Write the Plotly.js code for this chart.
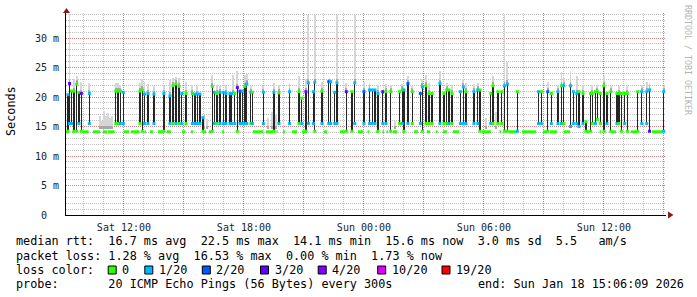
<!DOCTYPE html>
<html>
<head>
<meta charset="utf-8">
<script src="https://cdn.plot.ly/plotly-3.0.1.min.js"></script>
<style>
html,body{margin:0;padding:0;background:#fff;}
#chart{width:697px;height:297px;}
</style>
</head>
<body>
<div id="chart"></div>
<script>
// ---------- DATA (hours since Sat 2026-01-17 00:00, values in ms) ----------
const lossLabels = ['0','1/20','2/20','3/20','4/20','10/20','19/20'];
const lossColors = ['#26ff00','#00b8ff','#0059ff','#5e00ff','#7e00ff','#dd00ff','#ff0000'];

// dense ping spread (dark smoke) where the pings split between the two paths
const barHours = [9.20,9.28,9.38,9.50,9.64,9.75,9.87,10.27,
  11.59,11.70,11.82,11.97,
  12.80,12.92,13.03,13.20,13.50,14.00,
  14.30,14.45,14.60,14.75,14.89,15.10,15.42,15.55,15.67,15.80,15.95,
  16.42,16.52,16.65,16.80,16.97,17.10,17.30,17.39,17.54,17.67,17.80,17.92,18.05,18.14,18.34,18.42,18.97,
  19.50,19.75,20.28,20.75,20.89,21.10,21.22,21.47,21.54,21.90,22.24,22.34,22.54,22.65,23.12,23.40,23.54,
  24.00,24.28,24.42,24.55,24.70,24.94,25.10,25.34,25.78,25.92,26.00,26.20,26.42,26.82,26.92,27.10,27.25,27.40,27.80,28.00,28.14,28.25,28.40,28.82,28.97,29.10,
  29.50,29.69,29.80,30.34,30.45,30.70,30.89,31.03,31.17,31.67,32.73,32.87,33.19,33.37,33.70,33.88,33.99,
  34.33,34.47,34.64,34.75,34.95,35.10,35.33,35.42,35.57,35.67,35.82,36.00,36.15,36.34,36.65,36.75,36.87,37.04,37.17,37.69,37.89,38.14,38.28,38.99];
const barTop = [20.4,22.3,21.0,21.0,22.2,20.8,20.6,20.6,
  21.0,21.0,21.0,20.8,
  21.0,21.2,20.5,20.6,20.5,20.6,
  20.2,21.9,22.2,21.8,20.6,20.6,20.6,20.5,20.5,20.5,16.5,
  21.8,20.8,20.6,20.8,20.8,20.6,20.6,20.6,20.6,21.6,21.0,21.0,21.8,22.2,20.8,20.8,20.8,
  20.8,20.7,20.9,20.9,19.8,20.9,22.4,20.9,22.5,21.0,22.6,22.6,20.8,22.4,20.9,20.9,22.4,
  20.9,21.2,21.2,21.2,20.6,20.9,20.9,20.9,20.9,21.2,21.2,22.3,20.9,20.6,21.7,21.9,20.6,20.6,22.3,20.6,21.2,21.2,20.6,20.9,21.7,20.9,
  20.9,21.2,21.2,20.6,21.9,20.9,20.9,21.9,22.2,20.9,20.9,20.9,20.9,20.6,20.9,21.9,21.9,
  21.9,20.9,20.6,20.9,20.6,15.8,20.6,20.6,20.9,20.9,20.6,21.9,20.6,20.9,20.6,20.6,20.6,20.6,20.6,20.9,20.9,20.9,21.2,20.9];
const barBot = [14.2,15.5,15.5,14.2,14.2,15.5,14.2,15.5,
  15.5,15.5,15.5,15.5,
  15.5,14.2,15.5,15.5,15.5,14.2,
  15.5,15.5,15.5,15.5,15.5,15.5,15.5,15.5,15.5,15.5,14.2,
  14.2,15.5,15.5,15.5,15.5,15.5,15.5,15.5,15.5,14.2,15.5,15.5,15.5,15.5,15.5,15.5,15.5,
  14.2,15.5,15.5,15.5,15.5,14.2,15.5,15.5,14.2,15.5,15.5,15.5,15.5,15.5,14.2,14.2,15.5,
  15.5,15.5,15.5,15.5,14.2,15.5,15.5,14.2,15.5,15.5,14.2,15.5,15.5,15.5,14.2,15.5,15.5,15.5,15.5,15.5,15.5,15.5,15.5,15.5,15.5,15.5,
  15.5,15.5,14.2,15.5,15.5,15.5,15.5,14.2,14.2,14.2,15.5,15.5,14.2,15.5,15.5,15.5,15.5,
  15.0,15.5,15.5,15.0,15.5,14.2,14.2,15.5,15.5,16.2,15.5,14.2,15.5,14.2,15.5,15.5,14.2,15.5,14.2,14.2,15.5,15.5,14.2,14.2];
// loss class index (into lossLabels) of the median at the top / bottom of each split
const topLoss = [1,3,0,0,0,0,3,1, 0,0,0,1, 0,0,1,1,1,1,
  1,0,0,0,1,0,0,1,1,1,1,
  0,1,0,1,1,1,1,1,0,3,2,1,0,1,1,0,1,
  1,0,1,0,0,3,1,1,1,0,2,1,1,1,3,0,1,
  2,1,1,1,1,3,0,0,0,0,1,2,0,2,1,0,0,0,1,0,0,0,0,1,1,0,
  1,1,0,0,0,0,0,1,1,0,1,0,2,0,1,0,1,
  1,1,1,0,0,0,0,0,0,0,0,0,0,0,0,0,0,0,0,0,1,1,1,1];
const botLoss = [0,1,1,0,0,1,0,1, 0,0,1,1, 0,0,1,1,1,0,
  1,0,1,0,1,0,1,1,1,1,0,
  0,1,0,1,1,1,1,1,1,0,1,1,1,1,0,1,1,
  0,1,1,0,1,0,1,1,0,1,1,1,1,1,0,0,1,
  1,1,1,1,0,1,1,0,0,1,0,1,0,1,0,0,0,0,1,0,0,1,0,1,1,1,
  1,1,0,1,0,0,0,0,0,1,1,1,0,1,1,1,0,
  1,1,1,1,1,0,0,0,1,0,0,0,1,0,1,0,0,1,0,0,1,1,3,1];

// light smoke (outlier pings)
const smokeHours = [9.28,9.50,9.64,9.87,10.27,10.80,10.90,11.00,11.10,11.20,11.30,11.40,11.59,11.70,11.82,
  12.80,12.92,13.03,13.20,13.50,14.00,14.30,14.45,14.60,14.75,15.10,15.42,15.67,16.00,16.15,
  16.42,16.65,16.80,17.10,17.45,17.67,18.05,18.14,18.34,18.97,19.20,19.40,19.60,19.50,19.75,
  20.28,20.75,21.10,21.22,21.54,21.90,22.24,22.65,23.12,23.54,24.00,24.28,24.70,25.10,25.34,
  25.55,25.92,26.20,26.42,26.92,27.10,27.25,27.80,28.14,28.40,28.97,29.10,29.50,29.69,30.10,
  30.45,30.60,31.03,31.17,33.19,33.70,33.88,33.99,34.33,34.64,34.95,35.42,35.67,36.00,36.34,
  36.75,37.17,37.89,38.14,38.28,38.99];
const smokeLo = [22.3,21.0,22.2,20.6,20.6,14.5,14.5,14.5,14.5,14.5,14.5,14.5,21.0,21.0,21.0,
  21.0,21.2,20.5,20.6,20.5,20.6,20.2,21.9,22.2,21.8,20.6,20.6,20.5,14.5,14.5,
  21.8,20.6,20.8,20.6,20.6,21.6,21.8,22.2,20.8,20.8,14.5,14.5,14.5,20.8,20.7,
  20.9,20.9,20.9,22.4,22.5,21.0,22.6,22.4,20.9,22.4,20.9,21.2,20.6,20.9,20.9,
  14.5,21.2,22.3,20.9,21.7,21.9,20.6,22.3,21.2,20.6,21.7,20.9,20.9,21.2,14.5,
  21.9,14.5,21.9,22.2,20.9,20.9,21.9,21.9,21.9,20.6,20.6,20.6,20.9,21.9,20.9,
  20.6,20.6,20.9,20.9,21.2,20.9];
const smokeHi = [34.0,23.0,23.6,22.5,22.3,16.8,16.0,17.6,16.8,17.3,16.4,16.8,22.3,22.3,22.0,
  22.4,23.0,22.6,22.2,21.8,21.8,22.8,23.3,23.4,23.3,22.6,22.0,21.8,17.0,16.2,
  23.8,22.0,21.8,22.0,23.8,24.4,23.8,23.9,22.0,21.8,16.5,17.5,17.0,22.3,22.0,
  22.3,23.6,23.0,33.9,33.9,22.5,23.0,33.9,22.4,33.9,22.5,22.3,22.0,22.2,22.0,
  16.0,22.2,23.5,21.8,23.0,23.8,22.3,24.4,22.4,22.0,23.0,22.4,22.2,22.4,16.5,
  23.6,17.5,34.0,26.0,22.6,22.0,24.3,23.2,24.4,23.6,22.0,22.0,22.0,23.6,22.0,
  21.8,22.0,22.0,22.6,22.4,21.8];

// periods where the median sits on the fast path (loss 0)
const lowMedian = 14.1;
const greenStart = [9.10,9.43,9.95,10.45,10.95,11.20,12.00,12.35,13.03,13.30,13.70,14.15,14.90,15.35,15.95,16.25,16.90,17.60,
  18.45,19.10,19.63,19.95,20.40,20.90,22.00,22.80,23.70,24.18,24.63,24.93,25.13,25.45,25.95,26.50,27.15,27.60,27.95,28.45,
  29.90,30.78,31.25,31.90,32.95,33.30,34.00,35.10,35.78,36.40,37.35,38.40];
const greenEnd = [9.20,9.48,10.23,10.80,11.15,11.53,12.25,12.78,13.10,13.45,13.98,14.35,15.08,15.45,16.10,16.40,17.00,17.68,
  18.95,19.45,19.68,20.05,20.65,21.10,22.15,23.05,23.95,24.25,24.70,25.00,25.20,25.65,26.05,26.70,27.30,27.68,28.15,28.75,
  30.35,30.85,31.65,32.60,33.15,33.65,34.30,35.25,35.85,36.60,37.70,38.95];

const yTickVals = [0,5,10,15,20,25,30];
const yTickText = ['0\u00a0\u00a0','5 m','10 m','15 m','20 m','25 m','30 m'];
const xTickHours = [12,15,18,21,24,27,30,33,36,39];
const xTickText = ['Sat 12:00','','Sat 18:00','','Sun 00:00','','Sun 06:00','','Sun 12:00',''];

const statLines = [
  'median rtt:  16.7 ms avg  22.5 ms max  14.1 ms min  15.6 ms now  3.0 ms sd  5.5   am/s',
  'packet loss: 1.28 % avg  16.53 % max  0.00 % min  1.73 % now',
  'loss color:',
  'probe:       20 ICMP Echo Pings (56 Bytes) every 300s'
];
const endText = 'end: Sun Jan 18 15:06:09 2026';

// ---------- helpers ----------
const DAY0 = Date.UTC(2026,0,17);
function hT(h){ return new Date(DAY0 + Math.round(h*3600000)).toISOString().slice(0,19).replace('T',' '); }
const PL = 66, PW = 600, PB = 215, PH = 202;
const px = x => (x-PL)/PW;
const py = y => (PB-y)/PH;
const nb = s => s.replace(/ /g,'\u00a0');
const MONO = 'DejaVu Sans Mono';

const traces = [];
// light smoke
traces.push({type:'bar', x:smokeHours.map(hT), base:smokeLo, y:smokeHi.map((v,i)=>v-smokeLo[i]),
  width:330000, marker:{color:'#d6d6d6', line:{width:0}}, hoverinfo:'skip'});
// darker smoke near the median
traces.push({type:'bar', x:smokeHours.map(hT), base:smokeLo, y:smokeHi.map((v,i)=>Math.min(0.6, v-smokeLo[i])),
  width:330000, marker:{color:'#a8a8a8', line:{width:0}}, hoverinfo:'skip'});
// dark split bars
traces.push({type:'bar', x:barHours.map(hT), base:barBot, y:barTop.map((v,i)=>v-barBot[i]),
  width:220000, marker:{color:'#262626', line:{width:0}}, hoverinfo:'skip'});
// low median line
const gx=[], gy=[];
greenStart.forEach((s,i)=>{ gx.push(hT(s),hT(greenEnd[i]),null); gy.push(lowMedian,lowMedian,null); });
traces.push({type:'scatter', mode:'lines', x:gx, y:gy, line:{color:lossColors[0], width:3}, connectgaps:false, hoverinfo:'skip'});
// median ticks
traces.push({type:'scatter', mode:'markers', x:barHours.map(hT), y:barBot,
  marker:{symbol:'square', size:3, color:botLoss.map(k=>lossColors[k]), line:{width:0}}, hoverinfo:'skip'});
traces.push({type:'scatter', mode:'markers', x:barHours.map(hT), y:barTop,
  marker:{symbol:'square', size:3, color:topLoss.map(k=>lossColors[k]), line:{width:0}}, hoverinfo:'skip'});

const annotations = [];
const shapes = [];
annotations.push({xref:'paper', yref:'paper', x:px(11), y:py(111), text:'Seconds', textangle:-90,
  showarrow:false, font:{family:MONO, size:11.8, color:'#000'}, xanchor:'center', yanchor:'middle'});
annotations.push({xref:'paper', yref:'paper', x:px(688), y:py(60), text:'RRDTOOL / TOBI OETIKER', textangle:90,
  showarrow:false, font:{family:MONO, size:8.3, color:'#b4b4b4'}, xanchor:'center', yanchor:'middle'});
const lineY = [241.3, 255.7, 270, 284.4];
statLines.forEach((s,i)=>{
  annotations.push({xref:'paper', yref:'paper', x:px(15), y:py(lineY[i]), text:nb(s), showarrow:false,
    font:{family:MONO, size:11.8, color:'#000'}, xanchor:'left', yanchor:'middle', borderpad:0});
});
annotations.push({xref:'paper', yref:'paper', x:px(477), y:py(lineY[3]), text:nb(endText), showarrow:false,
  font:{family:MONO, size:11.8, color:'#000'}, xanchor:'left', yanchor:'middle', borderpad:0});
const boxX = [112.2,148.8,206.3,264.5,322.2,381.7,446];
lossLabels.forEach((lab,i)=>{
  const cx = boxX[i];
  shapes.push({type:'rect', xref:'paper', yref:'paper', x0:px(cx-4), x1:px(cx+4), y0:py(274), y1:py(266),
    fillcolor:lossColors[i], line:{color:'#000', width:1}});
  annotations.push({xref:'paper', yref:'paper', x:px(cx+9), y:py(lineY[2]), text:lab, showarrow:false,
    font:{family:MONO, size:11.8, color:'#000'}, xanchor:'left', yanchor:'middle', borderpad:0});
});
// axis arrows
shapes.push({type:'path', xref:'paper', yref:'paper',
  path:`M ${px(63)} ${py(13)} L ${px(70)} ${py(13)} L ${px(66.5)} ${py(8)} Z`, fillcolor:'#8b1a1a', line:{width:0}});
shapes.push({type:'path', xref:'paper', yref:'paper',
  path:`M ${px(668)} ${py(211.5)} L ${px(668)} ${py(218.5)} L ${px(673.5)} ${py(215)} Z`, fillcolor:'#8b1a1a', line:{width:0}});

const layout = {
  width:697, height:297,
  margin:{l:PL, r:697-PL-PW, t:13, b:82},
  paper_bgcolor:'#fff', plot_bgcolor:'#fff',
  showlegend:false, barmode:'overlay', bargap:0,
  xaxis:{type:'date', range:[hT(9.1025), hT(39.1025)], tickmode:'array', tickvals:xTickHours.map(hT), ticktext:xTickText,
    showgrid:true, gridcolor:'rgba(205,110,110,0.75)', griddash:'1px,1px', gridwidth:1,
    minor:{tickmode:'linear', tick0:hT(0), dtick:3600000, showgrid:true, gridcolor:'rgba(150,150,150,0.6)', griddash:'1px,1px', gridwidth:1, ticklen:0},
    showline:true, linecolor:'#000', linewidth:1, ticks:'', zeroline:false,
    tickfont:{family:MONO, size:10, color:'#222'}, ticklabelstandoff:3, fixedrange:true},
  yaxis:{range:[0,34.24], tickmode:'array', tickvals:yTickVals, ticktext:yTickText,
    showgrid:true, gridcolor:'rgba(205,110,110,0.75)', griddash:'1px,1px', gridwidth:1,
    minor:{tickmode:'linear', tick0:0, dtick:1, showgrid:true, gridcolor:'rgba(150,150,150,0.6)', griddash:'1px,1px', gridwidth:1, ticklen:0},
    showline:true, linecolor:'#000', linewidth:1, ticks:'', zeroline:false,
    tickfont:{family:MONO, size:10, color:'#222'}, ticklabelstandoff:4, fixedrange:true},
  annotations, shapes
};
Plotly.newPlot('chart', traces, layout, {staticPlot:true, displayModeBar:false});
</script>
</body>
</html>
